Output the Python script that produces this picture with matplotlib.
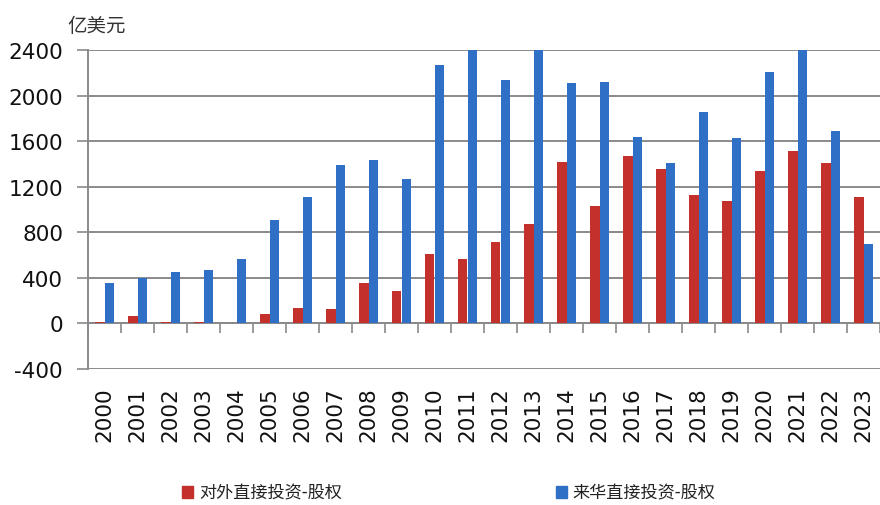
import numpy as np
import matplotlib
matplotlib.use("Agg")
import matplotlib.pyplot as plt
import matplotlib.transforms as mtransforms
from matplotlib.patches import Rectangle

plt.rcParams['font.family'] = ['DejaVu Sans', 'Noto Sans CJK SC']

years = [str(y) for y in range(2000, 2024)]
outward_equity = [12, 64, 15, 10, 2, 79, 138, 123, 358, 281, 613, 563, 718, 873,
                  1421, 1031, 1471, 1360, 1125, 1079, 1342, 1515, 1406, 1110]
inward_equity = [358, 402, 451, 469, 563, 908, 1110, 1392, 1436, 1266, 2268, 2550, 2139, 2500,
                 2107, 2124, 1641, 1406, 1857, 1626, 2204, 2480, 1688, 700]
series_names = ['对外直接投资-股权', '来华直接投资-股权']
y_ticks = [-400, 0, 400, 800, 1200, 1600, 2000, 2400]
unit_label = '亿美元'

red = '#c4302b'
blue = '#2f6fc6'
grid_c = '#8a8a8a'

fig = plt.figure(figsize=(8.8, 5.06), dpi=100)
ax = fig.add_axes([0.1, 0.269, 0.9, 0.63])

x = np.arange(len(years))
w = 0.28
ax.bar(x - w / 2, outward_equity, width=w, color=red, zorder=3)
ax.bar(x + w / 2, inward_equity, width=w, color=blue, zorder=3)

ax.set_xlim(-0.5, len(years) - 0.5)
ax.set_ylim(-400, 2400)
ax.set_yticks(y_ticks)
ax.set_yticklabels([str(v) for v in y_ticks], fontsize=15.5, color='#111111')
ax.yaxis.grid(True, color=grid_c, linewidth=1.4, zorder=0)
ax.set_axisbelow(True)
ax.tick_params(axis='y', length=8, width=1.2, color=grid_c, pad=10)

for s in ['top', 'right']:
    ax.spines[s].set_visible(False)
ax.spines['left'].set_color(grid_c)
ax.spines['left'].set_linewidth(1.4)
ax.spines['bottom'].set_position(('data', 0))
ax.spines['bottom'].set_color(grid_c)
ax.spines['bottom'].set_linewidth(1.4)
ax.spines['bottom'].set_zorder(2.5)

ax.set_xticks(np.arange(-0.5, len(years), 1.0))
ax.set_xticklabels([])
ax.tick_params(axis='x', length=7, width=1.2, color=grid_c, direction='out')

trans = mtransforms.blended_transform_factory(ax.transData, ax.transAxes)
for i, lab in enumerate(years):
    ax.text(i, -0.055, lab, transform=trans, rotation=90, ha='center', va='top',
            fontsize=15.5, color='#111111')

fig.text(0.076, 0.948, unit_label, fontsize=14, color='#333333',
         family=['Noto Sans CJK SC'], ha='left', va='center')

# legend
handles = [Rectangle((0, 0), 1, 1, color=red), Rectangle((0, 0), 1, 1, color=blue)]
leg = fig.legend(handles, series_names, loc='center', bbox_to_anchor=(0.51, 0.024),
                 ncol=2, frameon=False, handlelength=0.65, handleheight=0.65,
                 handletextpad=0.35, columnspacing=12.5,
                 prop={'family': ['Noto Sans CJK SC'], 'size': 12.3})
for t in leg.get_texts():
    t.set_color('#222222')

fig.savefig('out.png', dpi=100)
